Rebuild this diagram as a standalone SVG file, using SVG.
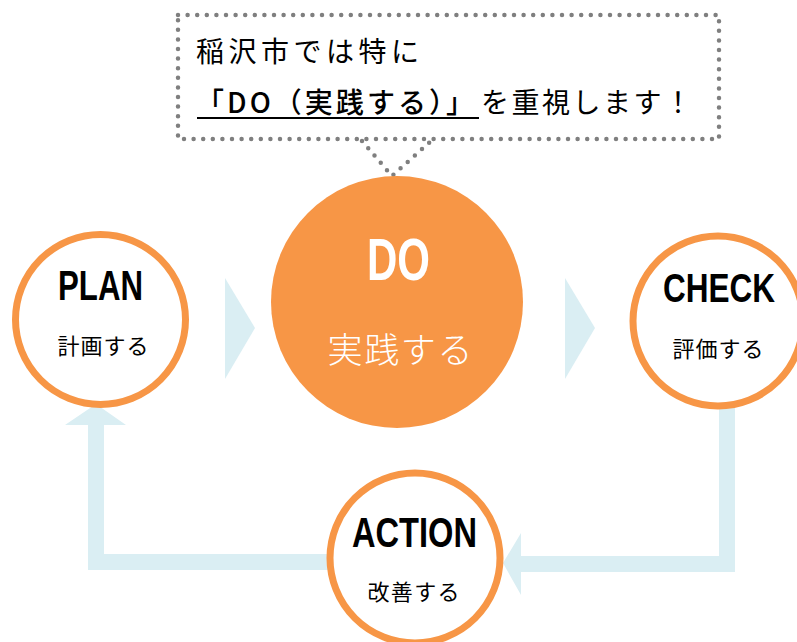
<svg xmlns="http://www.w3.org/2000/svg" width="797" height="642" viewBox="0 0 797 642">
<style>
.dot{fill:none;stroke:#7F7F7F;stroke-width:4.5;stroke-linecap:round;stroke-dasharray:0 9.6}
.conn{fill:#DAEEF3;stroke:none}
.ring{fill:#FFFFFF;stroke:#F79646;stroke-width:7}
.title{font-family:"Liberation Sans",Arial,sans-serif;font-weight:700;text-anchor:middle;fill:#000}
.sub{font-family:"Noto Sans CJK JP",sans-serif;font-size:22px;text-anchor:middle;fill:#000}
.call{font-family:"Noto Sans CJK JP",sans-serif;font-size:28px;fill:#000}
</style>
<rect width="797" height="642" fill="#FFFFFF"/>
<g id="connectors">
  <polygon class="conn" points="225,278 255,328 225,379"/>
  <polygon class="conn" points="565,278 595,328 565,379"/>
  <polygon class="conn" points="719,400 735,400 735,572 521,572 521,595 503,563 521,533 521,556 719,556"/>
  <polygon class="conn" points="330,554 330,570 88,570 88,425 65,425 96,404 126,425 104,425 104,554"/>
</g>
<g id="callout">
  <path class="dot" d="M178,15 H719 V139 H178 Z"/>
  <path class="dot" d="M362,141 L392,176 L431,141"/>
  <text class="call" x="196" y="62" textLength="223" lengthAdjust="spacing">稲沢市では特に</text>
  <text class="call" x="196" y="113" textLength="278" lengthAdjust="spacing" font-weight="500">「DO（実践する）」</text>
  <line x1="197" y1="118" x2="479" y2="118" stroke="#000" stroke-width="2"/>
  <text class="call" x="481" y="113" textLength="211" lengthAdjust="spacing">を重視します！</text>
</g>
<g id="plan">
  <circle class="ring" cx="100.5" cy="319.5" r="85"/>
  <text class="title" x="100.5" y="300" font-size="42" textLength="85" lengthAdjust="spacingAndGlyphs">PLAN</text>
  <text class="sub" x="103" y="354" textLength="91" lengthAdjust="spacing">計画する</text>
</g>
<g id="do">
  <circle cx="397" cy="302" r="126" fill="#F79646"/>
  <text class="title" x="398.5" y="280" font-size="60" style="fill:#FFFFFF" textLength="63" lengthAdjust="spacingAndGlyphs">DO</text>
  <text x="400" y="363" font-family="'Noto Sans CJK JP',sans-serif" font-size="35" font-weight="300" fill="#FFFFFF" text-anchor="middle" textLength="145" lengthAdjust="spacing">実践する</text>
</g>
<g id="check">
  <circle class="ring" cx="718" cy="321" r="85"/>
  <text class="title" x="719" y="302" font-size="41" textLength="112" lengthAdjust="spacingAndGlyphs">CHECK</text>
  <text class="sub" x="718" y="357" textLength="91" lengthAdjust="spacing">評価する</text>
</g>
<g id="action">
  <circle class="ring" cx="415" cy="558" r="85"/>
  <text class="title" x="414.5" y="547" font-size="42" textLength="125" lengthAdjust="spacingAndGlyphs">ACTION</text>
  <text class="sub" x="413.5" y="600" textLength="92" lengthAdjust="spacing">改善する</text>
</g>
</svg>
